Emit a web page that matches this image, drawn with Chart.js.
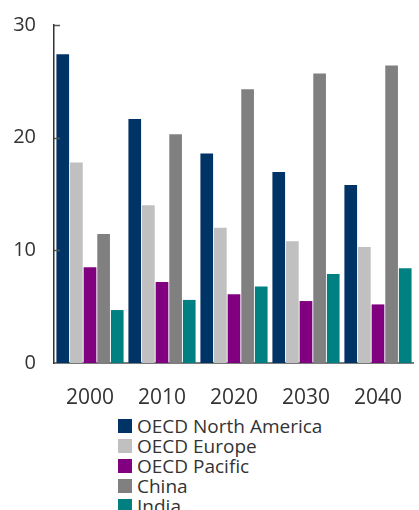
<!DOCTYPE html>
<html>
<head>
<meta charset="utf-8">
<script src="https://cdn.jsdelivr.net/npm/chart.js@4.4.1/dist/chart.umd.min.js"></script>
<style>
  body { margin: 0; overflow: hidden; background: #fff; font-family: 'Open Sans', sans-serif; }
  #wrap { position: absolute; left: 0; top: 0; width: 424px; height: 410px; }
  #legend { position: absolute; left: 118px; top: 416px; color: #333; font-size: 19px; }
  #legend .row { height: 20px; display: flex; align-items: center; white-space: nowrap; }
  #legend .box { width: 14px; height: 14px; margin-right: 5px; flex: none; }
</style>
</head>
<body>
<div id="wrap"><canvas id="chart" width="424" height="410"></canvas></div>
<div id="legend"></div>
<script>
// dados
const anos = ['2000', '2010', '2020', '2030', '2040'];
const serieNomes = ['OECD North America', 'OECD Europe', 'OECD Pacific', 'China', 'India'];
const northAmerica = [27.4, 21.65, 18.6, 16.95, 15.8];
const europe       = [17.8, 14.0, 12.0, 10.8, 10.3];
const pacific      = [8.5, 7.2, 6.1, 5.5, 5.2];
const china        = [11.45, 20.3, 24.3, 25.7, 26.4];
const india        = [4.7, 5.6, 6.8, 7.9, 8.4];
const yTicks       = [0, 10, 20, 30];

const cores = ['#003366', '#c0c0c0', '#800080', '#808080', '#008080'];
const valores = [northAmerica, europe, pacific, china, india];

const fonteY = { family: "'Open Sans', sans-serif", size: 20 };
const fonteX = { family: "'Open Sans', sans-serif", size: 21 };

// ticks pequenos para dentro do eixo y
const ticksDentro = {
  id: 'ticksDentro',
  afterDraw(chart) {
    const y = chart.scales.y;
    const ctx = chart.ctx;
    ctx.save();
    ctx.strokeStyle = '#555';
    ctx.lineWidth = 1.5;
    yTicks.slice(1).forEach(v => {
      const py = Math.round(y.getPixelForValue(v)) + 0.5;
      ctx.beginPath();
      ctx.moveTo(y.right, py);
      ctx.lineTo(y.right + 6, py);
      ctx.stroke();
    });
    ctx.restore();
  }
};

const chart = new Chart(document.getElementById('chart'), {
  type: 'bar',
  data: {
    labels: anos,
    datasets: serieNomes.map((nome, i) => ({
      label: nome,
      data: valores[i],
      backgroundColor: cores[i],
      borderWidth: 0,
      categoryPercentage: 0.946,
      barPercentage: 0.93
    }))
  },
  options: {
    responsive: false,
    animation: false,
    devicePixelRatio: 1,
    layout: { padding: { top: 25, right: 0, bottom: 0, left: 0 } },
    plugins: {
      legend: { display: false },
      tooltip: { enabled: false }
    },
    scales: {
      x: {
        grid: { display: false, drawTicks: false },
        border: { display: true, color: '#7a7a7a', width: 2 },
        ticks: { font: fonteX, color: '#333', padding: 22, maxRotation: 0 },
        afterFit: s => { s.height = 47; }
      },
      y: {
        min: 0,
        max: 30,
        grid: { display: false, drawTicks: false },
        border: { display: true, color: '#333', width: 1.5 },
        ticks: {
          stepSize: 10,
          font: fonteY,
          color: '#333',
          padding: 18
        },
        // largura fixa e sem folga extra em cima/baixo
        afterFit: s => { s.width = 54; s.paddingTop = 0; s.paddingBottom = 0; }
      }
    }
  },
  plugins: [ticksDentro]
});

// legenda vertical em HTML
document.getElementById('legend').innerHTML = chart.data.datasets.map(ds => `
  <div class="row"><span class="box" style="background:${ds.backgroundColor}"></span>${ds.label}</div>
`).join('');
</script>
</body>
</html>
